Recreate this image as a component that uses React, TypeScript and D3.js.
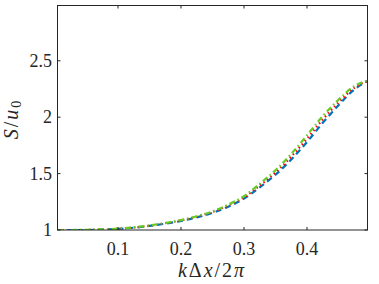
import React from 'react';
import * as d3 from 'd3';

// wavenumber k*dx/2pi
const kGrid = [0.004, 0.025, 0.05, 0.075, 0.1, 0.125, 0.15, 0.175, 0.2, 0.225, 0.25, 0.275, 0.3, 0.325, 0.35, 0.375, 0.4, 0.425, 0.45, 0.475, 0.496];

// S/u0 for the three runs
const blueSeries = [1.0, 1.0, 1.0, 1.004, 1.01, 1.02, 1.036, 1.056, 1.08, 1.112, 1.152, 1.207, 1.278, 1.378, 1.49, 1.625, 1.78, 1.95, 2.105, 2.245, 2.32];
const redSeries = [1.0, 1.0, 1.0, 1.005, 1.011, 1.022, 1.038, 1.06, 1.085, 1.118, 1.16, 1.218, 1.29, 1.395, 1.51, 1.65, 1.81, 1.98, 2.13, 2.26, 2.322];
const greenSeries = [1.0, 1.0, 1.002, 1.006, 1.012, 1.024, 1.04, 1.062, 1.088, 1.122, 1.165, 1.225, 1.3, 1.41, 1.53, 1.675, 1.84, 2.01, 2.155, 2.275, 2.325];

const xTicks = [0.1, 0.2, 0.3, 0.4];
const yTicks = [1, 1.5, 2, 2.5];

const W = 379;
const H = 284;
const margin = { left: 57.5, right: 11.5, top: 5.5, bottom: 54 };

const serif = 'Liberation Serif';

export default function App() {
  const x = d3.scaleLinear().domain([0.004, 0.496]).range([margin.left, W - margin.right]);
  const y = d3.scaleLinear().domain([1, 2.99]).range([H - margin.bottom, margin.top]);

  const line = d3.line<number>()
    .x((_, i) => x(kGrid[i]))
    .y((d) => y(d))
    .curve(d3.curveMonotoneX);

  const series = [
    { values: blueSeries, color: '#0072BD', dash: '6,4' },
    { values: redSeries, color: '#FF0000', dash: '1.5,3' },
    { values: greenSeries, color: '#66CC22', dash: '6,3,1.5,3' },
  ];

  const x0 = margin.left;
  const x1 = W - margin.right;
  const y0 = H - margin.bottom;
  const y1 = margin.top;
  const tick = 3;

  return (
    <svg width={W} height={H} style={{ position: 'absolute', left: 0, top: 0, background: '#fff' }}>
      <rect x={0} y={0} width={W} height={H} fill="#fff" />
      <defs>
        <clipPath id="plotClip">
          <rect x={x0} y={y1} width={x1 - x0} height={y0 - y1} />
        </clipPath>
      </defs>

      <g clipPath="url(#plotClip)">
        {series.map((s, i) => (
          <path key={i} d={line(s.values) || ''} fill="none" stroke={s.color}
            strokeWidth={2.2} strokeDasharray={s.dash} />
        ))}
      </g>

      {/* box */}
      <rect x={x0} y={y1} width={x1 - x0} height={y0 - y1} fill="none" stroke="#262626" strokeWidth={1} />

      <g fontFamily={serif} fill="#262626">
        {/* x ticks */}
        {xTicks.map((t) => (
          <g key={'x' + t}>
            <line x1={x(t)} x2={x(t)} y1={y0} y2={y0 - tick} stroke="#262626" />
            <line x1={x(t)} x2={x(t)} y1={y1} y2={y1 + tick} stroke="#262626" />
            <text x={x(t)} y={y0 + 25} textAnchor="middle" fontSize={18}>
              {d3.format('.1f')(t)}
            </text>
          </g>
        ))}

        {/* y ticks */}
        {yTicks.map((t) => (
          <g key={'y' + t}>
            <line x1={x0} x2={x0 + tick} y1={y(t)} y2={y(t)} stroke="#262626" />
            <line x1={x1} x2={x1 - tick} y1={y(t)} y2={y(t)} stroke="#262626" />
            <text x={x0 - 5.5} y={y(t) + 6} textAnchor="end" fontSize={18}>
              {d3.format('~g')(t)}
            </text>
          </g>
        ))}

        {/* axis labels */}
        <text x={212} y={277} textAnchor="middle" fontSize={20} letterSpacing={2}>
          <tspan fontStyle="italic">k</tspan>
          <tspan>Δ</tspan>
          <tspan fontStyle="italic">x</tspan>
          <tspan>/2</tspan>
          <tspan fontStyle="italic">π</tspan>
        </text>
        <text transform="translate(18,119) rotate(-90)" textAnchor="middle" fontSize={20} letterSpacing={2}>
          <tspan fontStyle="italic">S</tspan>
          <tspan>/</tspan>
          <tspan fontStyle="italic">u</tspan>
          <tspan fontSize={14} dy={3}>0</tspan>
        </text>
      </g>
    </svg>
  );
}
